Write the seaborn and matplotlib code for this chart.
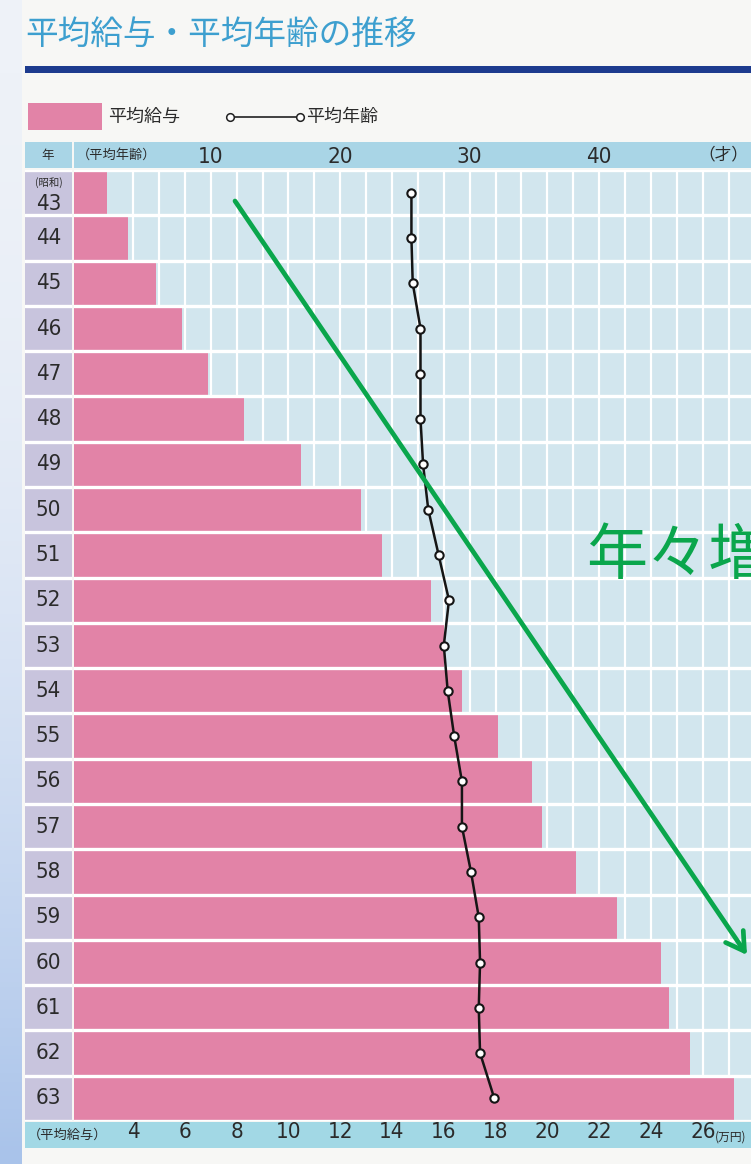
import numpy as np
import matplotlib
matplotlib.use("Agg")
import matplotlib.pyplot as plt
from matplotlib.patches import Rectangle, FancyArrowPatch
from matplotlib.lines import Line2D
from matplotlib import font_manager
import seaborn as sns

# 昭和43年〜63年
years = ["43", "44", "45", "46", "47", "48", "49", "50", "51", "52", "53",
         "54", "55", "56", "57", "58", "59", "60", "61", "62", "63"]
# 平均給与（万円）
salary = [3.0, 3.8, 4.9, 5.9, 6.9, 8.3, 10.5, 12.8, 13.6, 15.5, 16.0,
          16.7, 18.1, 19.4, 19.8, 21.1, 22.7, 24.4, 24.7, 25.5, 27.2]
# 平均年齢（才）
age = [25.5, 25.5, 25.6, 26.2, 26.2, 26.2, 26.4, 26.8, 27.6, 28.4, 28.0,
       28.3, 28.8, 29.4, 29.4, 30.1, 30.7, 30.8, 30.7, 30.8, 31.9]
salary_ticks = [4, 6, 8, 10, 12, 14, 16, 18, 20, 22, 24, 26]
age_ticks = [10, 20, 30, 40]

W, H = 751, 1164
PAGE = "#f7f7f5"
PINK = "#e283a7"
BG = "#d2e6ee"
LAV = "#c8c4dd"
HEAD = "#a9d5e6"
BOT = "#a2d8e5"
TITLE = "#3d9fcf"
NAVY = "#1d3b8e"
GREEN = "#0aa64c"
INK = "#2b2b2b"

sns.set_theme(style="white")
plt.rcParams["font.family"] = ["Noto Sans CJK JP", "DejaVu Sans"]

# narrow figures for the numeric labels
_names = {f.name for f in font_manager.fontManager.ttflist}
if "Liberation Sans Narrow" in _names:
    NUM = font_manager.FontProperties(family="Liberation Sans Narrow")
else:
    NUM = font_manager.FontProperties(family="DejaVu Sans", stretch="condensed")

fig = plt.figure(figsize=(W / 100, H / 100), dpi=100)
fig.patch.set_facecolor(PAGE)


def box(x0, y0, x1, y1):
    """Pixel box (top-left origin) -> figure fraction [l, b, w, h]."""
    return [x0 / W, 1 - y1 / H, (x1 - x0) / W, (y1 - y0) / H]


def rect(x0, y0, x1, y1, color, z=-1):
    fig.add_artist(Rectangle((x0 / W, 1 - y1 / H), (x1 - x0) / W, (y1 - y0) / H,
                             transform=fig.transFigure, facecolor=color,
                             edgecolor="none", zorder=z))


def ftext(x, y, s, **kw):
    fig.text(x / W, 1 - y / H, s, **kw)


def num_font(size):
    fp = NUM.copy()
    fp.set_size(size)
    return fp


# soft bluish strip along the left edge of the page
strip = fig.add_axes(box(0, 0, 22, H), zorder=-2)
grad = np.linspace(0, 1, 256)[:, None] ** 2
strip.imshow(grad, aspect="auto", cmap=matplotlib.colors.LinearSegmentedColormap.from_list(
    "edge", ["#eef2f8", "#a9c3ea"]), extent=(0, 1, 0, 1), origin="upper")
strip.set_axis_off()

# title and rule
ftext(25, 35, "平均給与・平均年齢の推移", fontsize=23.5, color=TITLE, va="center", ha="left")
rect(25, 66, W, 73, NAVY)

# legend
rect(28, 103, 102, 130, PINK)
ftext(108, 117, "平均給与", fontsize=13, color=INK, va="center", ha="left")
fig.add_artist(Line2D([230 / W, 300 / W], [1 - 117 / H, 1 - 117 / H],
                      transform=fig.transFigure, color="#222", lw=1.2,
                      marker="o", ms=5.5, mfc="white", mec="#222", mew=1.1))
ftext(306, 117, "平均年齢", fontsize=13, color=INK, va="center", ha="left")

# header band and bottom band
rect(25, 142, 72, 168, HEAD)
rect(74, 142, W, 168, HEAD)
rect(25, 1122, W, 1148, BOT)
ftext(48, 155, "年", fontsize=9, color=INK, va="center", ha="center")
ftext(77, 155, "（平均年齢）", fontsize=9.5, color=INK, va="center", ha="left")
ftext(748, 155, "（才）", fontsize=12, color=INK, va="center", ha="right")
ftext(28, 1135, "（平均給与）", fontsize=9.5, color=INK, va="center", ha="left")
ftext(715, 1137, "(万円)", fontsize=8.5, color=INK, va="center", ha="left")

# main chart: salary on the bottom scale, age on the top scale
x0s, x1s = (74 - 29.4) / 25.9, (W - 29.4) / 25.9
ax = fig.add_axes(box(74, 170, W, 1121))
ax.set_facecolor(BG)
sns.barplot(x=salary, y=years, orient="h", color=PINK, saturation=1,
            width=1.0, edgecolor="none", linewidth=0, ax=ax)
ax.set_xlim(x0s, x1s)
ax.set_xticks(salary_ticks)
ax.set_xticks(np.arange(4, 28), minor=True)
ax.set_xticklabels([str(t) for t in salary_ticks], fontproperties=num_font(16),
                   color=INK)
ax.tick_params(axis="x", which="both", length=0, pad=1.0)
ax.grid(axis="x", which="both", color="white", lw=1.6)
ax.grid(axis="y", visible=False)
ax.set_axisbelow(True)
for b in np.arange(-0.5, len(years)):
    ax.axhline(b, color="white", lw=2.4, zorder=3)
ax.set_xlabel("")
ax.set_ylabel("")
for s in ax.spines.values():
    s.set_visible(False)

ax2 = ax.twiny()
sns.lineplot(x=age, y=np.arange(len(age)), ax=ax2, sort=False, orient="y",
             color="#151515", lw=1.8, marker="o", ms=6, mfc="white",
             mec="#151515", mew=1.5, zorder=5)
ax2.set_xlim(2 * x0s - 4, 2 * x1s - 4)
ax2.set_xticks(age_ticks)
ax2.set_xticklabels([str(t) for t in age_ticks], fontproperties=num_font(16),
                    color=INK)
ax2.tick_params(axis="x", length=0, pad=2.5)
ax2.set_xlabel("")
ax2.set_ylabel("")
for s in ax2.spines.values():
    s.set_visible(False)
ax.set_yticks([])
ax.set_ylim(len(years) - 0.5, -0.5)

# year column
axl = fig.add_axes(box(25, 170, 72, 1121))
axl.set_facecolor(LAV)
axl.set_xlim(0, 1)
axl.set_ylim(len(years) - 0.5, -0.5)
axl.set_xticks([])
axl.set_yticks([])
for s in axl.spines.values():
    s.set_visible(False)
for b in np.arange(-0.5, len(years)):
    axl.axhline(b, color="white", lw=2.4)
for i, y in enumerate(years):
    if i == 0:
        axl.text(0.5, -0.23, "(昭和)", fontsize=7.5, color=INK, ha="center", va="center")
        axl.text(0.5, 0.24, y, fontproperties=num_font(16), color=INK,
                 ha="center", va="center")
    else:
        axl.text(0.5, i, y, fontproperties=num_font(16), color=INK,
                 ha="center", va="center")

# trend arrow and caption
fig.add_artist(FancyArrowPatch((235 / W, 1 - 201 / H), (747 / W, 1 - 955 / H),
                               transform=fig.transFigure,
                               arrowstyle="->,head_length=0.4,head_width=0.24",
                               mutation_scale=32, lw=3.4, color=GREEN,
                               shrinkA=0, shrinkB=0, zorder=10))
ftext(586, 557, "年々増加", fontsize=44, color=GREEN, va="center", ha="left", zorder=10)

fig.savefig("out.png", dpi=100, facecolor=PAGE)
